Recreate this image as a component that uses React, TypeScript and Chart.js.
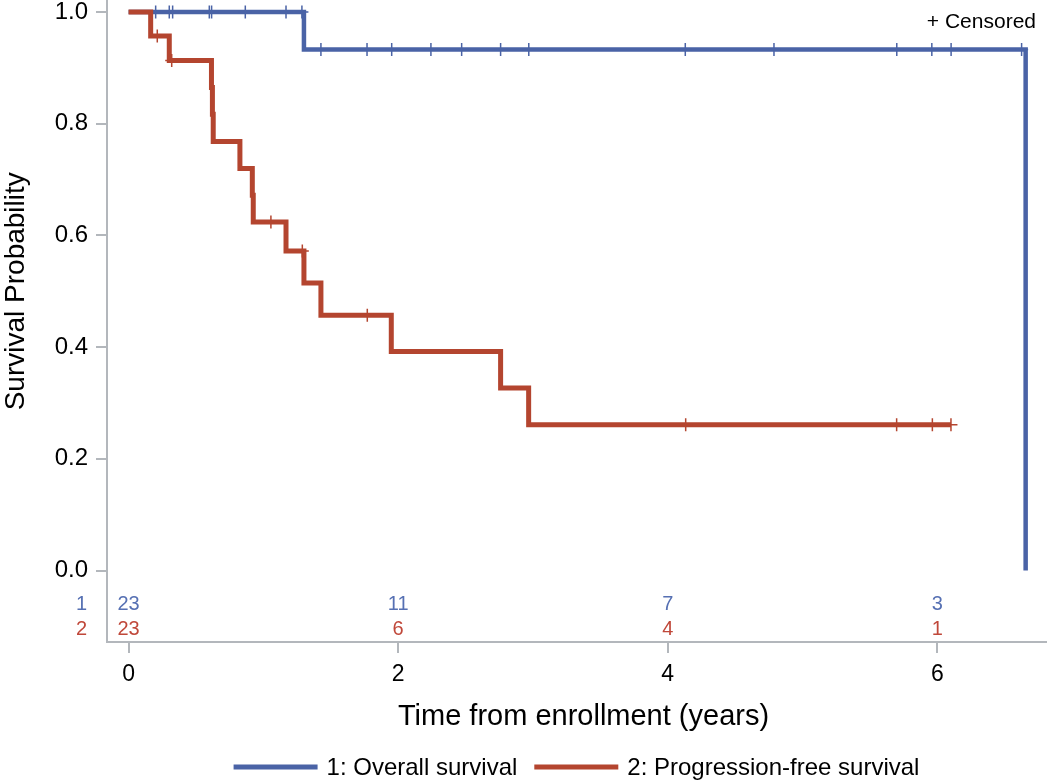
import React, { useEffect, useRef } from "react";
import { Chart, registerables } from "chart.js";

Chart.register(...registerables);

// ---- Data ----
const osTimes = [0, 1.301, 6.655];
const osSurvival = [1.0, 0.933, 0.0];
const osCensorTimes = [0.201, 0.302, 0.327, 0.599, 0.616, 0.866, 1.168, 1.286, 1.427, 1.769, 1.952, 2.243, 2.471, 2.76, 2.969, 4.13, 4.788, 5.699, 5.959, 6.102, 6.625];
const osCensorSurvival = [1, 1, 1, 1, 1, 1, 1, 1, 0.933, 0.933, 0.933, 0.933, 0.933, 0.933, 0.933, 0.933, 0.933, 0.933, 0.933, 0.933, 0.933];

const pfsTimes = [0, 0.164, 0.302, 0.615, 0.622, 0.628, 0.826, 0.918, 0.925, 1.168, 1.301, 1.427, 1.949, 2.76, 2.968, 6.101];
const pfsSurvival = [1.0, 0.957, 0.913, 0.865, 0.817, 0.768, 0.72, 0.672, 0.624, 0.572, 0.515, 0.457, 0.392, 0.327, 0.261, 0.261];
const pfsCensorTimes = [0.213, 0.32, 1.056, 1.289, 1.771, 4.133, 5.698, 5.963, 6.101];
const pfsCensorSurvival = [0.957, 0.913, 0.624, 0.572, 0.457, 0.261, 0.261, 0.261, 0.261];

const atRiskTimes = [0, 2, 4, 6];
const osAtRisk = [23, 11, 7, 3];
const pfsAtRisk = [23, 6, 4, 1];

const xTickValues = [0, 2, 4, 6];
const yTickValues = [0, 0.2, 0.4, 0.6, 0.8, 1.0];

const groupLabels = ["1", "2"];
const legendLabels = ["1: Overall survival", "2: Progression-free survival"];
const xTitle = "Time from enrollment (years)";
const yTitle = "Survival Probability";

// ---- Styles ----
const FONT = '"Liberation Sans", Arial, sans-serif';
const BLUE = "#4A63A6";
const RED = "#B4452F";
const BLUE_TXT = "#5670B3";
const RED_TXT = "#C0483A";
const AXIS = "#B3B7BC";

const toPoints = (xs: number[], ys: number[]) => xs.map((x, i) => ({ x, y: ys[i] }));

const overlayPlugin = {
  id: "overlay",
  afterDraw(chart: any) {
    const { ctx, chartArea } = chart;
    const xs = chart.scales.x;
    const ys = chart.scales.y;
    ctx.save();

    // at-risk table
    const rowY = [ys.getPixelForValue(-0.06), ys.getPixelForValue(-0.105)];
    const rowVals = [osAtRisk, pfsAtRisk];
    const rowCols = [BLUE_TXT, RED_TXT];
    ctx.font = `20px ${FONT}`;
    ctx.textBaseline = "middle";
    for (let r = 0; r < 2; r++) {
      ctx.fillStyle = rowCols[r];
      ctx.textAlign = "center";
      atRiskTimes.forEach((t, i) => {
        ctx.fillText(String(rowVals[r][i]), xs.getPixelForValue(t), rowY[r]);
      });
      ctx.textAlign = "right";
      ctx.fillText(groupLabels[r], chartArea.left - 20, rowY[r]);
    }

    // censored note
    ctx.fillStyle = "#000";
    ctx.font = `21px ${FONT}`;
    ctx.textAlign = "right";
    ctx.fillText("+ Censored", chartArea.right - 10, 22);

    // y title
    const yc = (ys.getPixelForValue(0) + ys.getPixelForValue(1)) / 2;
    ctx.save();
    ctx.translate(16, yc);
    ctx.rotate(-Math.PI / 2);
    ctx.font = `28px ${FONT}`;
    ctx.textAlign = "center";
    ctx.textBaseline = "middle";
    ctx.fillText(yTitle, 0, 0);
    ctx.restore();

    // x title
    ctx.font = `29px ${FONT}`;
    ctx.textAlign = "center";
    ctx.textBaseline = "middle";
    ctx.fillText(xTitle, (chartArea.left + chartArea.right) / 2 + 7, 717);

    // legend
    ctx.font = `24px ${FONT}`;
    ctx.textBaseline = "middle";
    ctx.textAlign = "left";
    const lineLen = 84;
    const gapTxt = 9;
    const gapItem = 17;
    const w0 = ctx.measureText(legendLabels[0]).width;
    const w1 = ctx.measureText(legendLabels[1]).width;
    const total = lineLen + gapTxt + w0 + gapItem + lineLen + gapTxt + w1;
    let lx = (chartArea.left + chartArea.right) / 2 - total / 2;
    const ly = 767;
    const cols = [BLUE, RED];
    const widths = [w0, w1];
    for (let i = 0; i < 2; i++) {
      ctx.fillStyle = cols[i];
      ctx.fillRect(lx, ly - 2.5, lineLen, 5);
      lx += lineLen + gapTxt;
      ctx.fillStyle = "#000";
      ctx.fillText(legendLabels[i], lx, ly + 1);
      lx += widths[i] + gapItem;
    }
    ctx.restore();
  },
};

export default function App() {
  const ref = useRef<HTMLCanvasElement | null>(null);

  useEffect(() => {
    if (!ref.current) return;
    const chart = new Chart(ref.current, {
      type: "line",
      data: {
        datasets: [
          {
            label: "pfs-censor",
            data: toPoints(pfsCensorTimes, pfsCensorSurvival),
            showLine: false,
            pointStyle: "cross",
            pointRadius: 6.5,
            pointBorderWidth: 1.5,
            borderColor: RED,
            backgroundColor: RED,
          },
          {
            label: legendLabels[1],
            data: toPoints(pfsTimes, pfsSurvival),
            stepped: "before",
            borderColor: RED,
            borderWidth: 5,
            pointRadius: 0,
            fill: false,
          },
          {
            label: "os-censor",
            data: toPoints(osCensorTimes, osCensorSurvival),
            showLine: false,
            pointStyle: "cross",
            pointRadius: 6.5,
            pointBorderWidth: 1.5,
            borderColor: BLUE,
            backgroundColor: BLUE,
          },
          {
            label: legendLabels[0],
            data: toPoints(osTimes, osSurvival),
            stepped: "before",
            borderColor: BLUE,
            borderWidth: 4.5,
            pointRadius: 0,
            fill: false,
          },
        ],
      },
      options: {
        responsive: false,
        animation: false,
        events: [],
        layout: { autoPadding: false, padding: { top: 0, right: 4, bottom: 0, left: 0 } },
        plugins: {
          legend: { display: false },
          tooltip: { enabled: false },
        },
        scales: {
          x: {
            type: "linear",
            min: -0.16,
            max: 6.806,
            afterBuildTicks: (s: any) => {
              s.ticks = xTickValues.map((v) => ({ value: v }));
            },
            afterFit: (s: any) => {
              s.height = 138;
              s.paddingLeft = 0;
              s.paddingRight = 0;
            },
            border: { display: true, color: AXIS, width: 2 },
            grid: { display: true, drawOnChartArea: false, drawTicks: true, tickLength: 11, color: AXIS, lineWidth: 2 },
            ticks: { color: "#000", font: { family: FONT, size: 23 }, padding: 8, maxRotation: 0 },
            title: { display: false },
          },
          y: {
            type: "linear",
            min: -0.128,
            max: 1.0215,
            afterBuildTicks: (s: any) => {
              s.ticks = yTickValues.map((v) => ({ value: v }));
            },
            afterFit: (s: any) => {
              s.width = 107;
              s.paddingTop = 0;
              s.paddingBottom = 0;
            },
            border: { display: true, color: AXIS, width: 2 },
            grid: { display: true, drawOnChartArea: false, drawTicks: true, tickLength: 11, color: AXIS, lineWidth: 2 },
            ticks: {
              color: "#000",
              font: { family: FONT, size: 24 },
              padding: 8,
              callback: (v: any) => Number(v).toFixed(1),
            },
            title: { display: false },
          },
        },
      },
      plugins: [overlayPlugin],
    } as any);
    return () => chart.destroy();
  }, []);

  return (
    <div style={{ position: "fixed", left: 0, top: 0, width: 1050, height: 780, background: "#fff" }}>
      <canvas ref={ref} width={1050} height={780} style={{ display: "block" }} />
    </div>
  );
}
